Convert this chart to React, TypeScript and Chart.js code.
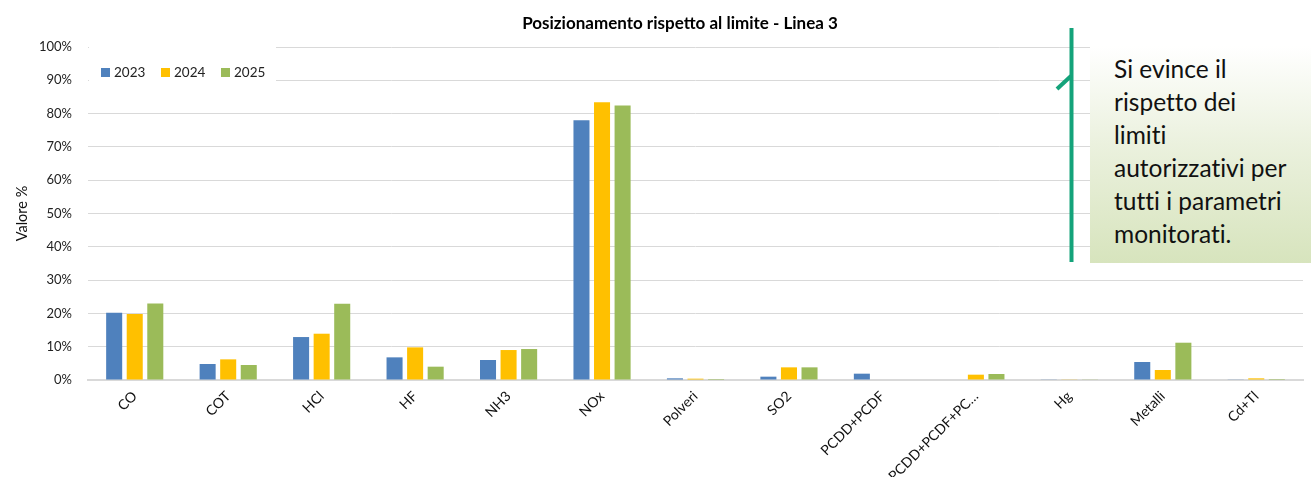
import React, { useEffect, useRef } from "react";
import { Chart, registerables } from "chart.js";

Chart.register(...registerables);

const categories = ["CO", "COT", "HCl", "HF", "NH3", "NOx", "Polveri", "SO2", "PCDD+PCDF", "PCDD+PCDF+PC…", "Hg", "Metalli", "Cd+Tl"];
const seriesNames = ["2023", "2024", "2025"];
const values2023 = [20.2, 4.8, 12.9, 6.8, 6.0, 78.0, 0.5, 1.0, 1.9, 0, 0.1, 5.4, 0.1];
const values2024 = [19.8, 6.2, 13.9, 9.8, 9.0, 83.4, 0.4, 3.8, 0, 1.6, 0.2, 3.0, 0.5];
const values2025 = [23.0, 4.5, 22.9, 4.0, 9.3, 82.4, 0.3, 3.8, 0, 1.8, 0.1, 11.2, 0.3];
const seriesColors = ["#4f81bd", "#ffc000", "#9bbb59"];
const titleText = "Posizionamento rispetto al limite - Linea 3";
const yTitle = "Valore %";
const calloutLines = ["Si evince il", "rispetto dei", "limiti", "autorizzativi per", "tutti i parametri", "monitorati."];

const FONT = "Lato, 'Open Sans', sans-serif";

const overlayPlugin = {
  id: "overlay",
  afterDraw(chart: any) {
    const ctx = chart.ctx;
    ctx.save();
    // title
    ctx.fillStyle = "#000";
    ctx.font = `bold 17px ${FONT}`;
    ctx.textAlign = "center";
    ctx.textBaseline = "middle";
    ctx.fillText(titleText, 680, 24);
    // legend box
    ctx.fillStyle = "#fff";
    ctx.fillRect(chart.chartArea.left + 1, 38, 187, 50);
    ctx.font = `13.5px ${FONT}`;
    ctx.textAlign = "left";
    const xs = [101, 161, 221];
    chart.data.datasets.forEach((ds: any, i: number) => {
      ctx.fillStyle = ds.backgroundColor;
      ctx.fillRect(xs[i], 68, 9, 9);
      ctx.fillStyle = "#222";
      ctx.fillText(ds.label, xs[i] + 13, 73);
    });
    ctx.restore();
  },
};

export default function App() {
  const ref = useRef<HTMLCanvasElement>(null);
  useEffect(() => {
    if (!ref.current) return;
    const mk = (label: string, data: number[], color: string) => ({
      label,
      data,
      backgroundColor: color,
      borderWidth: 0,
      barPercentage: 0.78,
      categoryPercentage: 0.66,
    });
    const chart = new Chart(ref.current, {
      type: "bar",
      data: {
        labels: categories,
        datasets: [
          mk(seriesNames[0], values2023, seriesColors[0]),
          mk(seriesNames[1], values2024, seriesColors[1]),
          mk(seriesNames[2], values2025, seriesColors[2]),
        ],
      },
      options: {
        animation: false,
        responsive: false,
        devicePixelRatio: 1,
        layout: { padding: { top: 47, right: 8, left: 0, bottom: 0 } },
        plugins: {
          legend: { display: false },
          title: { display: false },
          tooltip: { enabled: false },
        },
        scales: {
          x: {
            grid: { display: false, drawTicks: false },
            border: { display: true, color: "#d9d9d9", width: 2 },
            ticks: {
              minRotation: 45,
              maxRotation: 45,
              padding: 8,
              autoSkip: false,
              color: "#111",
              font: { family: FONT, size: 14 },
            },
            afterFit(scale: any) {
              scale.height = 97;
            },
          },
          y: {
            min: 0,
            max: 100,
            ticks: {
              stepSize: 10,
              padding: 16,
              color: "#222",
              font: { family: FONT, size: 13 },
              callback: (v: any) => v + "%",
            },
            grid: { color: "#d9d9d9", drawTicks: false },
            border: { display: false },
            title: {
              display: true,
              text: yTitle,
              color: "#111",
              font: { family: FONT, size: 14.5 },
              padding: { top: 14, bottom: 0 },
            },
            afterFit(scale: any) {
              scale.width = 88;
            },
          },
        },
      },
      plugins: [overlayPlugin],
    } as any);
    return () => chart.destroy();
  }, []);

  return (
    <div style={{ position: "absolute", left: 0, top: 0, width: 1311, height: 477, background: "#fff", overflow: "hidden" }}>
      <canvas ref={ref} width={1311} height={477} style={{ position: "absolute", left: 0, top: 0 }} />
      <div
        style={{
          position: "absolute",
          left: 1090,
          top: 46,
          width: 221,
          height: 217,
          background: "linear-gradient(to bottom, #ffffff 0%, #ebf1de 45%, #d7e4bd 100%)",
        }}
      />
      <div
        style={{
          position: "absolute",
          left: 1114,
          top: 52,
          fontFamily: FONT,
          fontSize: 24.5,
          lineHeight: "33px",
          color: "#111",
          whiteSpace: "pre",
          fontVariantLigatures: "none",
        }}
      >
        {calloutLines.join("\n")}
      </div>
      <svg width={1311} height={477} style={{ position: "absolute", left: 0, top: 0, pointerEvents: "none" }}>
        <line x1={1071.5} y1={28} x2={1071.5} y2={262} stroke="#14a37a" strokeWidth={4} />
        <line x1={1057} y1={89} x2={1071} y2={76} stroke="#14a37a" strokeWidth={4} />
      </svg>
    </div>
  );
}
